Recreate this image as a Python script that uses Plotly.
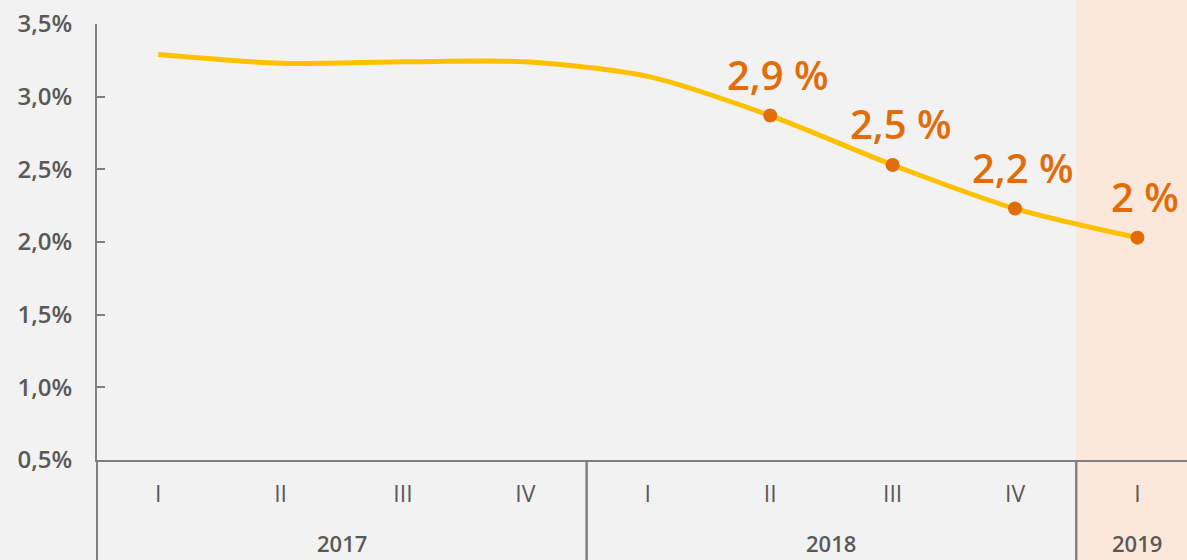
import plotly.graph_objects as go

years = ["2017"] * 4 + ["2018"] * 4 + ["2019"]
quarters = ["I", "II", "III", "IV", "I", "II", "III", "IV", "I"]
rates = [3.29, 3.23, 3.24, 3.24, 3.14, 2.87, 2.53, 2.23, 2.03]
label_idx = [5, 6, 7, 8]
label_texts = ["2,9 %", "2,5 %", "2,2 %", "2 %"]
year_groups = ["2017", "2018", "2019"]

GRAY_TXT = "#595959"
AXIS = "#7f7f7f"
LINE = "#FFC000"
ORANGE = "#E36C0A"
BG = "#F2F2F2"
SHADE = "#FBE8DA"

cats = [f"{y} {q}" for y, q in zip(years, quarters)]

fig = go.Figure()
fig.add_trace(go.Scatter(
    x=cats, y=rates, mode="lines",
    line=dict(color=LINE, width=5, shape="spline", smoothing=0.8),
    hoverinfo="skip", showlegend=False))
fig.add_trace(go.Scatter(
    x=[cats[i] for i in label_idx], y=[rates[i] for i in label_idx],
    mode="markers", marker=dict(color=ORANGE, size=14),
    showlegend=False))
for i, t in zip(label_idx, label_texts):
    fig.add_annotation(x=cats[i], y=rates[i], text=t, showarrow=False,
                       xanchor="center", yanchor="bottom", yshift=12, xshift=8,
                       font=dict(color=ORANGE, size=40, family="Open Sans", weight=600))

r0, r1 = -0.5, 8.405
def xfrac(v):
    return (v - r0) / (r1 - r0)

spans = []
for yv in year_groups:
    idx = [i for i, y in enumerate(years) if y == yv]
    spans.append((yv, idx[0] - 0.5, idx[-1] + 0.5))

_, s0, s1 = spans[-1]
fig.add_shape(type="rect", xref="paper", yref="paper", x0=xfrac(s0), x1=1.05,
              y0=-0.35, y1=1.1, fillcolor=SHADE, line_width=0, layer="below")

for yv, a, b in spans:
    for edge in (a, b):
        if r0 <= edge <= r1:
            fig.add_shape(type="line", xref="paper", yref="paper",
                          x0=xfrac(edge), x1=xfrac(edge), y0=0, y1=-0.35,
                          line=dict(color=AXIS, width=2))
    fig.add_annotation(xref="paper", yref="paper", x=xfrac((a + b) / 2),
                       xanchor="center", y=-0.19, yanchor="middle",
                       showarrow=False, text=yv,
                       font=dict(size=22, color=GRAY_TXT, weight=600))

fig.update_layout(
    width=1187, height=560,
    margin=dict(l=97, r=0, t=24, b=100),
    paper_bgcolor=BG, plot_bgcolor=BG,
    separators=", ",
    font=dict(family="Open Sans", color=GRAY_TXT),
    xaxis=dict(type="category", range=[r0, r1],
               tickvals=cats, ticktext=quarters,
               showline=True, linecolor=AXIS, linewidth=2,
               showgrid=False, ticks="", ticklabelstandoff=12,
               tickfont=dict(size=23, color=GRAY_TXT)),
    yaxis=dict(range=[0.5, 3.5], dtick=0.5, tick0=0.5,
               tickformat=".1f", ticksuffix="%",
               showline=True, linecolor=AXIS, linewidth=2,
               ticks="inside", ticklen=8, tickcolor=AXIS, tickwidth=2,
               showgrid=False, zeroline=False, ticklabelstandoff=18,
               tickfont=dict(size=24, color=GRAY_TXT, weight=600)),
)
fig.write_html("out.html", config={"displayModeBar": False},
               post_script="document.body.style.margin='0px';")
